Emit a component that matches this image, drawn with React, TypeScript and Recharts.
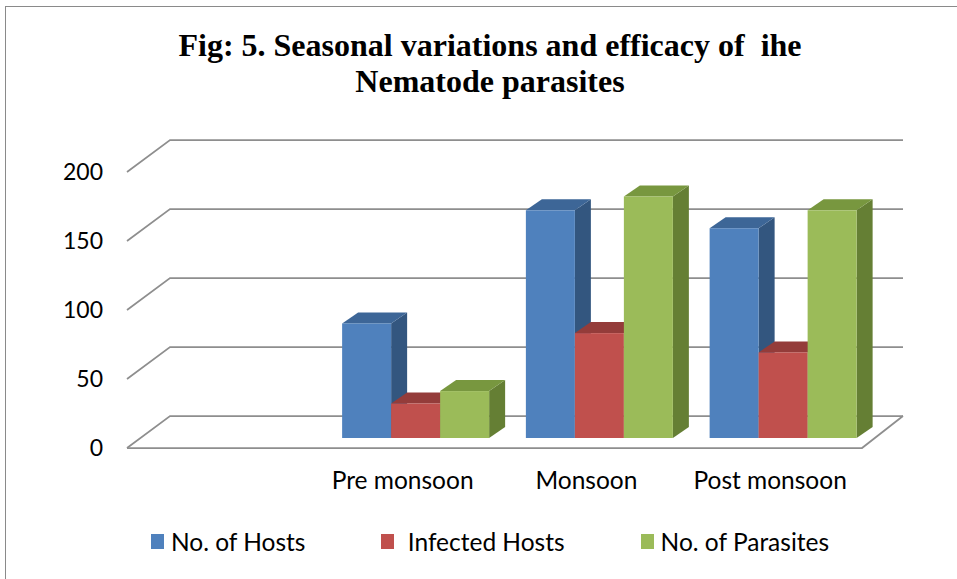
import React from "react";
import { BarChart, Bar, XAxis, YAxis, CartesianGrid, Legend } from "recharts";

const categories = ["", "Pre monsoon", "Monsoon", "Post monsoon"];
const hostCounts = [null, 83, 165, 152];
const infectedCounts = [null, 25, 76, 62];
const parasiteCounts = [null, 34, 175, 165];
const yTicks = [0, 50, 100, 150, 200];
const seriesNames = ["No. of Hosts", " Infected Hosts", "No. of Parasites"];

const data = categories.map((name, i) => ({
    name,
    hosts: hostCounts[i],
    infected: infectedCounts[i],
    parasites: parasiteCounts[i],
}));

// front plane of the 3D box
const PLOT_LEFT = 127;
const PLOT_RIGHT = 862;
const PLOT_TOP = 172;
const PLOT_BOTTOM = 448;
const WALL_DX = 43;
const WALL_DY = -32;
// bars sit a bit back from the front plane
const BAR_SX = 13;
const BAR_SY = -10;
const BAR_DX = 16;
const BAR_DY = -11;

const FONT = "Lato, 'Open Sans', sans-serif";
const GRID = "#8e8e8e";

const palette = [
    { front: "#4f81bd", top: "#3d6697", side: "#33567f" },
    { front: "#c0504d", top: "#943c3a", side: "#7f3230" },
    { front: "#9bbb59", top: "#78973f", side: "#657f34" },
];

function makeBar3D(colors: { front: string; top: string; side: string }) {
    return (props: any) => {
        const { x, y, width, height } = props;
        if (!height || height <= 0 || props.value == null) return <g />;
        const X = x + BAR_SX;
        const Y = y + BAR_SY;
        const w = width;
        const h = height;
        return (
            <g>
                <polygon
                    points={`${X + w},${Y} ${X + w + BAR_DX},${Y + BAR_DY} ${X + w + BAR_DX},${Y + h + BAR_DY} ${X + w},${Y + h}`}
                    fill={colors.side}
                />
                <polygon
                    points={`${X},${Y} ${X + w},${Y} ${X + w + BAR_DX},${Y + BAR_DY} ${X + BAR_DX},${Y + BAR_DY}`}
                    fill={colors.top}
                />
                <rect x={X} y={Y} width={w} height={h} fill={colors.front} />
            </g>
        );
    };
}

function GridLine(props: any) {
    const { x1, y1, x2 } = props;
    const isFloor = y1 >= PLOT_BOTTOM - 1;
    return (
        <g>
            <polyline
                points={`${x1},${y1} ${x1 + WALL_DX},${y1 + WALL_DY} ${x2 + 41},${y1 + WALL_DY}`}
                fill="none"
                stroke={GRID}
                strokeWidth={1.75}
            />
            {isFloor && (
                <polyline
                    points={`${x1},${y1} ${x2},${y1} ${x2 + 41},${y1 + WALL_DY}`}
                    fill="none"
                    stroke={GRID}
                    strokeWidth={1.75}
                />
            )}
        </g>
    );
}

function LegendContent(props: any) {
    const items = [...(props.payload || [])].sort(
        (a: any, b: any) => seriesNames.indexOf(a.value) - seriesNames.indexOf(b.value)
    );
    return (
        <div
            style={{
                display: "flex",
                justifyContent: "center",
                gap: 76,
                fontFamily: FONT,
                fontSize: 24.5,
                color: "#000",
            }}
        >
            {items.map((entry: any, i: number) => (
                <div key={i} style={{ display: "flex", alignItems: "center" }}>
                    <span
                        style={{
                            display: "inline-block",
                            width: 13,
                            height: 15,
                            background: entry.color,
                            marginRight: 7,
                        }}
                    />
                    <span style={{ whiteSpace: "pre" }}>{entry.value}</span>
                </div>
            ))}
        </div>
    );
}

export default function App() {
    return (
        <div
            style={{
                position: "absolute",
                left: 0,
                top: 0,
                width: 957,
                height: 579,
                background: "#fff",
                overflow: "hidden",
            }}
        >
            <div
                style={{
                    position: "absolute",
                    left: 5,
                    top: 6,
                    width: 990,
                    height: 620,
                    border: "1.5px solid #8a8a8a",
                }}
            />
            <div
                style={{
                    position: "absolute",
                    left: 0,
                    top: 27,
                    width: 980,
                    textAlign: "center",
                    fontFamily: "'Liberation Serif', 'Times New Roman', serif",
                    fontWeight: "bold",
                    fontSize: 32,
                    lineHeight: "36px",
                    whiteSpace: "pre",
                }}
            >
                {"Fig: 5. Seasonal variations and efficacy of  ihe\nNematode parasites"}
            </div>
            <div style={{ position: "absolute", left: 0, top: 0 }}>
                <BarChart
                    width={957}
                    height={579}
                    data={data}
                    barCategoryGap="10%"
                    barGap={0}
                    margin={{
                        top: PLOT_TOP,
                        left: PLOT_LEFT - 60,
                        right: 957 - PLOT_RIGHT,
                        bottom: 579 - PLOT_BOTTOM - 40,
                    }}
                >
                    <CartesianGrid vertical={false} horizontal={(p: any) => <GridLine key={`g-${p.y1}`} {...p} />} />
                    <XAxis
                        dataKey="name"
                        axisLine={false}
                        tickLine={false}
                        height={40}
                        tickSize={0}
                        tickMargin={24}
                        interval={0}
                        tick={{ fontFamily: FONT, fontSize: 24.5, fill: "#000" }}
                    />
                    <YAxis
                        width={60}
                        domain={[0, 200]}
                        ticks={yTicks}
                        axisLine={false}
                        tickLine={false}
                        tickSize={0}
                        tickMargin={24}
                        tick={{ fontFamily: FONT, fontSize: 23, fill: "#000" }}
                    />
                    <Legend
                        layout="horizontal"
                        verticalAlign="middle"
                        align="center"
                        wrapperStyle={{ position: "absolute", left: 0, top: 527, width: 980 }}
                        content={<LegendContent />}
                    />
                    <Bar
                        dataKey="hosts"
                        name={seriesNames[0]}
                        fill={palette[0].front}
                        shape={makeBar3D(palette[0])}
                        isAnimationActive={false}
                    />
                    <Bar
                        dataKey="infected"
                        name={seriesNames[1]}
                        fill={palette[1].front}
                        shape={makeBar3D(palette[1])}
                        isAnimationActive={false}
                    />
                    <Bar
                        dataKey="parasites"
                        name={seriesNames[2]}
                        fill={palette[2].front}
                        shape={makeBar3D(palette[2])}
                        isAnimationActive={false}
                    />
                </BarChart>
            </div>
        </div>
    );
}
